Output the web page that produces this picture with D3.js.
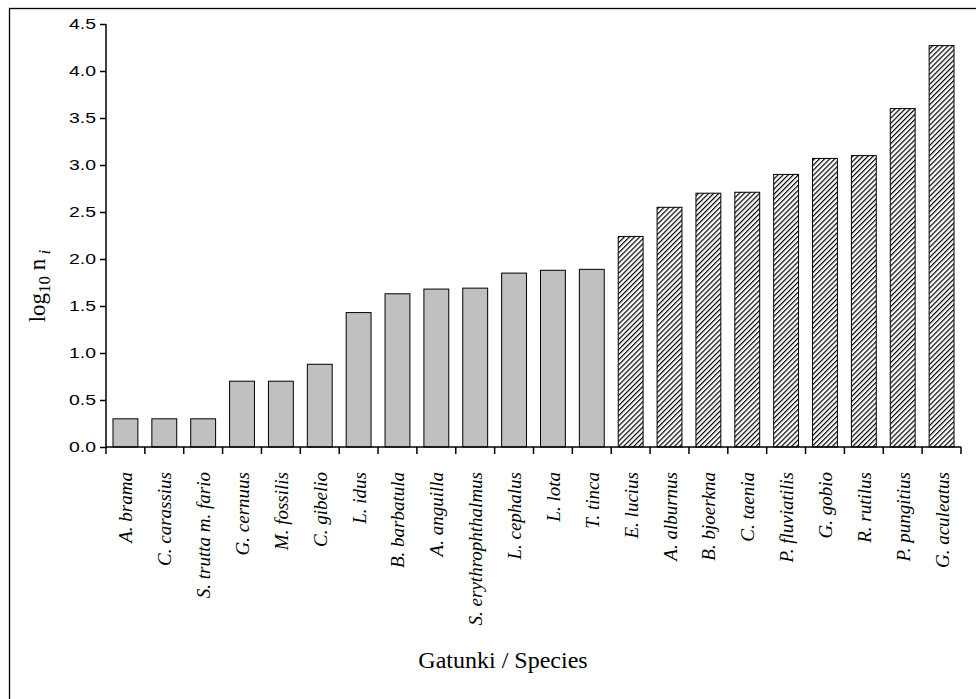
<!DOCTYPE html>
<html><head><meta charset="utf-8">
<script src="https://cdn.jsdelivr.net/npm/d3@7"></script>
<style>body{margin:0;background:#fff}svg{display:block}</style>
</head><body>
<script>
const species = ["A. brama","C. carassius","S. trutta m. fario","G. cernuus","M. fossilis","C. gibelio","L. idus","B. barbatula","A. anguilla","S. erythrophthalmus","L. cephalus","L. lota","T. tinca","E. lucius","A. alburnus","B. bjoerkna","C. taenia","P. fluviatilis","G. gobio","R. rutilus","P. pungitius","G. aculeatus"];
const values = [0.30,0.30,0.30,0.70,0.70,0.88,1.43,1.63,1.68,1.69,1.85,1.88,1.89,2.24,2.55,2.70,2.71,2.90,3.07,3.10,3.60,4.27];
const hatched = [0,0,0,0,0,0,0,0,0,0,0,0,0,1,1,1,1,1,1,1,1,1];
const yTicks = [0,0.5,1.0,1.5,2.0,2.5,3.0,3.5,4.0,4.5];

const W=976,H=699;
const svg=d3.select("body").append("svg").attr("width",W).attr("height",H);
const defs=svg.append("defs");
const pat=defs.append("pattern").attr("id","hatch").attr("patternUnits","userSpaceOnUse")
  .attr("width",3.6).attr("height",3.6).attr("patternTransform","rotate(45)");
pat.append("rect").attr("width",3.6).attr("height",3.6).attr("fill","#fff");
pat.append("line").attr("x1",0).attr("y1",0).attr("x2",0).attr("y2",3.6).attr("stroke","#000").attr("stroke-width",2.4);

// outer frame
svg.append("rect").attr("x",9.5).attr("y",8.5).attr("width",W+20).attr("height",H+20)
  .attr("fill","none").attr("stroke","#000").attr("stroke-width",1.3);

const x=d3.scaleBand().domain(species).range([106,961]).paddingInner(0.36).paddingOuter(0.18);
const xb=d3.scaleBand().domain(species).range([106,961]);
const y=d3.scaleLinear().domain([0,4.5]).range([447,24]);

svg.append("g").selectAll("rect").data(species).join("rect")
  .attr("x",d=>x(d)).attr("width",x.bandwidth())
  .attr("y",(d,i)=>y(values[i])).attr("height",(d,i)=>y(0)-y(values[i]))
  .attr("fill",(d,i)=>hatched[i]?"url(#hatch)":"#c0c0c0")
  .attr("stroke","#000").attr("stroke-width",1);

// y axis
const ya=svg.append("g").attr("transform","translate(106,0)")
  .call(d3.axisLeft(y).tickValues(yTicks).tickFormat(d3.format(".1f")).tickSize(6).tickPadding(4));
ya.select(".domain").attr("d","M0,24V447").attr("stroke-width",1.5);
ya.selectAll(".tick line").attr("stroke-width",1.5);
ya.selectAll("text").attr("font-family","Liberation Sans, Arial, sans-serif").attr("font-size",15.5).attr("fill","#000")
  .attr("textLength",27).attr("lengthAdjust","spacingAndGlyphs");

// x axis line and ticks at band boundaries
const xa=svg.append("g");
xa.append("line").attr("x1",106).attr("x2",961).attr("y1",447).attr("y2",447).attr("stroke","#000").attr("stroke-width",1.5);
const bounds=species.map(d=>xb(d)).concat([961]);
xa.selectAll("line.t").data(bounds).join("line").attr("class","t")
  .attr("x1",d=>d).attr("x2",d=>d).attr("y1",447).attr("y2",454).attr("stroke","#000").attr("stroke-width",1.5);

// category labels
svg.append("g").selectAll("text").data(species).join("text")
  .attr("transform",d=>`translate(${xb(d)+xb.bandwidth()/2+7},472) rotate(-90)`)
  .attr("text-anchor","end")
  .attr("font-family","Liberation Serif, Times New Roman, serif").attr("font-style","italic")
  .attr("font-size",19).attr("fill","#000").text(d=>d);

// axis titles
svg.append("text").attr("x",503).attr("y",668).attr("text-anchor","middle")
  .attr("font-family","Liberation Serif, Times New Roman, serif").attr("font-size",24).text("Gatunki / Species");

const yl=svg.append("text").attr("transform","translate(45,286) rotate(-90)").attr("text-anchor","middle")
  .attr("font-family","Liberation Serif, Times New Roman, serif").attr("font-size",23);
yl.append("tspan").text("log");
yl.append("tspan").attr("font-size",17).attr("dy",5).text("10");
yl.append("tspan").attr("dy",-5).text(" n");
yl.append("tspan").attr("font-size",17).attr("dy",5).attr("font-style","italic").text(" i");
</script>
</body></html>
